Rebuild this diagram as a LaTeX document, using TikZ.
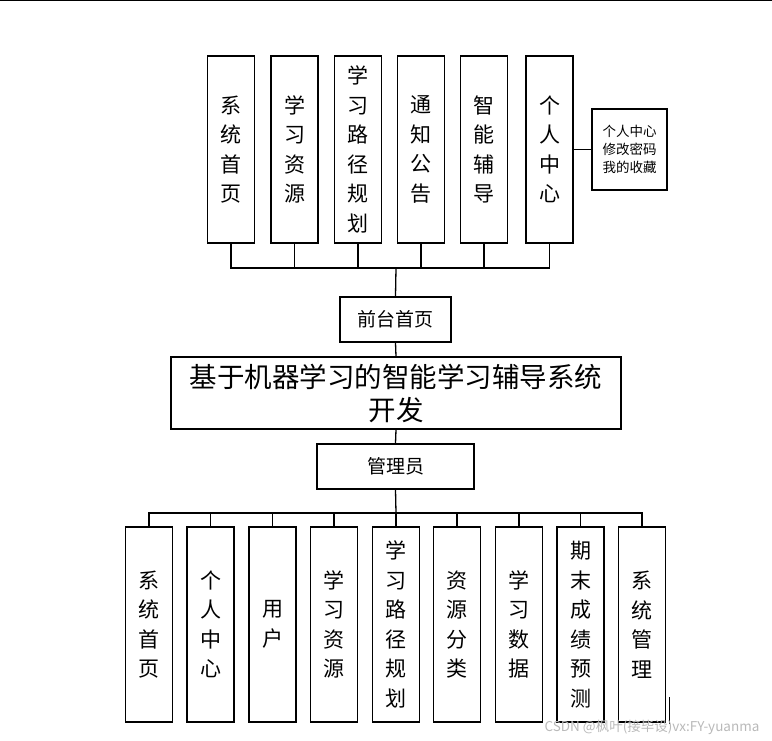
\documentclass[tikz,border=0pt]{standalone}
\usepackage{fontspec}
\setmainfont{Noto Sans CJK SC}
\usetikzlibrary{positioning}

\begin{document}
\begin{tikzpicture}[
    x=1pt,y=-1pt,
    box/.style={rectangle,draw,line width=1.2pt,inner sep=0pt,align=center},
    col/.style={box,minimum width=47pt,font=\fontsize{21}{29.5}\selectfont},
    wire/.style={line width=1.3pt}
]
\useasboundingbox (0,0) rectangle (772,740);
\draw[line width=1.5pt] (0,0.5) -- (772,0.5);

% front end modules
\foreach \i/\x/\t in {1/231/{系\\统\\首\\页}, 2/294.5/{学\\习\\资\\源}, 3/358/{学\\习\\路\\径\\规\\划},
                      4/421/{通\\知\\公\\告}, 5/484/{智\\能\\辅\\导}, 6/549.5/{个\\人\\中\\心}} {
    \node[col,minimum height=187pt] (t\i) at (\x,149.5) {\t};
}
\node[box,minimum width=75pt,minimum height=81pt,font=\fontsize{13.5}{18}\selectfont] (side) at (629.5,149.5) {个人中心\\修改密码\\我的收藏};
\draw[wire] (t6.east) -- (side.west);

% centre column
\node[box,minimum width=111pt,minimum height=45pt,font=\fontsize{19}{24}\selectfont] (front) at (395.5,319.5) {前台首页};
\node[box,minimum width=450pt,minimum height=72pt,font=\fontsize{27.5}{33}\selectfont] (main) at (396,393) {基于机器学习的智能学习辅导系统\\开发};
\node[box,minimum width=157pt,minimum height=45pt,font=\fontsize{19}{24}\selectfont] (admin) at (395.5,466.5) {管理员};

\coordinate (topbus) at (396,268);
\foreach \i in {1,...,6} {
    \draw[wire] (t\i.south) |- (topbus);
}
\draw[wire] (topbus) -- (front.north);
\draw[wire] (front.south) -- (main.north);
\draw[wire] (main.south) -- (admin.north);

% admin modules
\foreach \i/\x/\t in {1/149/{系\\统\\首\\页}, 2/210.5/{个\\人\\中\\心}, 3/272.5/{用\\户}, 4/334/{学\\习\\资\\源},
                      5/396/{学\\习\\路\\径\\规\\划}, 6/457/{资\\源\\分\\类}, 7/519/{学\\习\\数\\据},
                      8/580.5/{期\\末\\成\\绩\\预\\测}, 9/642/{系\\统\\管\\理}} {
    \node[col,minimum height=195pt] (b\i) at (\x,624.5) {\t};
}
\coordinate (botbus) at (396,513);
\draw[wire] (admin.south) -- (botbus);
\foreach \i in {1,...,9} {
    \draw[wire] (b\i.north) |- (botbus);
}

\draw[line width=1.6pt] (669.5,697) -- (669.5,724);
\node[font=\fontsize{13.5}{15}\selectfont,text=gray!55,inner sep=0pt] (mark) at (652,727) {CSDN @枫叶(接毕设)vx:FY-yuanma};
\end{tikzpicture}
\end{document}
